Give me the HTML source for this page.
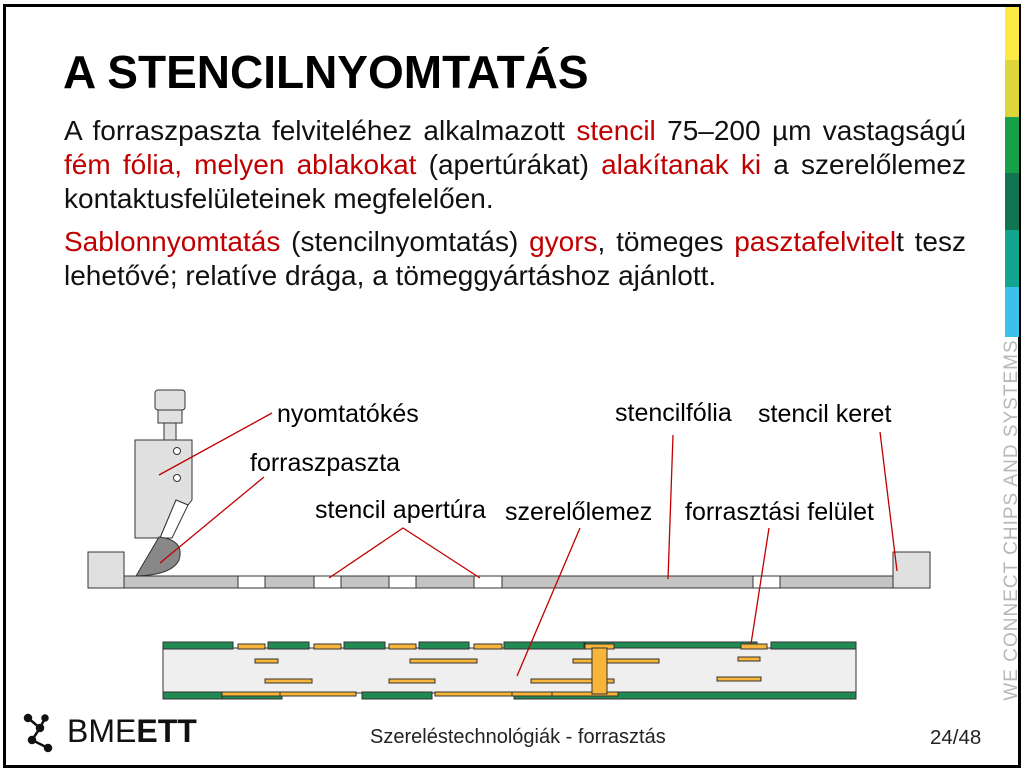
<!DOCTYPE html>
<html><head><meta charset="utf-8"><style>
body{margin:0;width:1028px;height:772px;overflow:hidden;background:#fff;font-family:"Liberation Sans",Arial,sans-serif;}
#frame{position:absolute;left:3px;top:4px;width:1012px;height:758px;border:3px solid #000;}
.t{position:absolute;white-space:nowrap;color:#111;}
.r{color:#c00000;}
.ln{position:absolute;left:64px;width:902px;font-size:28px;line-height:34px;text-align:justify;text-align-last:justify;white-space:nowrap;color:#111;}
.ln.l{text-align-last:left;}
</style></head><body>
<div id="frame"></div>
<div style="position:absolute;left:1005px;top:7px;width:14px;">
<div style="height:53px;background:#fde944"></div>
<div style="height:57px;background:#ddd63a"></div>
<div style="height:56px;background:#17a04a"></div>
<div style="height:57px;background:#117552"></div>
<div style="height:57px;background:#12a690"></div>
<div style="height:50px;background:#3bc1ee"></div>
</div>
<div class="t" style="left:1012px;top:520px;transform:translate(-50%,-50%) rotate(-90deg);font-size:19px;color:#b8b8b8;font-weight:300;letter-spacing:1px">WE CONNECT CHIPS AND SYSTEMS</div>

<div class="t" style="left:63px;top:45px;font-size:46px;font-weight:bold;color:#000">A STENCILNYOMTATÁS</div>
<div>
<div class="ln" style="top:114px">A forraszpaszta felviteléhez alkalmazott <span class="r">stencil</span> 75–200 µm vastagságú</div>
<div class="ln" style="top:148px"><span class="r">fém fólia, melyen ablakokat</span> (apertúrákat) <span class="r">alakítanak ki</span> a szerelőlemez</div>
<div class="ln l" style="top:182px">kontaktusfelületeinek megfelelően.</div>
</div>
<div>
<div class="ln" style="top:225px"><span class="r">Sablonnyomtatás</span> (stencilnyomtatás) <span class="r">gyors</span>, tömeges <span class="r">pasztafelvitel</span>t tesz</div>
<div class="ln l" style="top:259px">lehetővé; relatíve drága, a tömeggyártáshoz ajánlott.</div>
</div>

<svg width="1028" height="772" style="position:absolute;left:0;top:0" font-family="Liberation Sans, Arial, sans-serif" font-size="25" fill="#000">
<g stroke="#333" stroke-width="1">
<rect x="88" y="552" width="36" height="36" fill="#e0e0e0"/>
<rect x="893" y="552" width="37" height="36" fill="#e0e0e0"/>
<rect x="124" y="576" width="769" height="12" fill="#c4c4c4"/>
<g fill="#fff">
<rect x="238" y="576" width="27" height="12"/><rect x="314" y="576" width="27" height="12"/><rect x="389" y="576" width="27" height="12"/><rect x="474" y="576" width="28" height="12"/><rect x="753" y="576" width="27" height="12"/>
</g>
<g fill="#e0e0e0">
<rect x="155" y="390" width="30" height="20" rx="3"/>
<rect x="158" y="410" width="24" height="13"/>
<rect x="164" y="423" width="12" height="17"/>
<path d="M135 440 H192 V500 L188 505 L176 500 L160 538 H135 Z"/>
<path d="M176 500 L188 505 L172 538 H160 Z" fill="#fff"/>
<circle cx="177" cy="451" r="3.5" fill="#fff"/><circle cx="177" cy="478" r="3.5" fill="#fff"/>
</g>
<path d="M136 576 L159 537 Q185 540 179 560 Q172 575 136 576 Z" fill="#888"/>
<g>
<rect x="163" y="648" width="693" height="45" fill="#efefef"/>
<g fill="#218a52">
<rect x="163" y="642" width="70" height="7"/><rect x="268" y="642" width="41" height="7"/><rect x="344" y="642" width="41" height="7"/><rect x="419" y="642" width="50" height="7"/><rect x="504" y="642" width="80" height="7"/><rect x="585" y="642" width="172" height="6"/><rect x="771" y="642" width="85" height="7"/>
<rect x="163" y="692" width="60" height="7"/><rect x="222" y="692" width="60" height="7"/><rect x="362" y="692" width="70" height="7"/><rect x="514" y="692" width="342" height="7"/>
</g>
<g fill="#f7b53a">
<rect x="238" y="644" width="27" height="5"/><rect x="314" y="644" width="27" height="5"/><rect x="389" y="644" width="27" height="5"/><rect x="474" y="644" width="28" height="5"/><rect x="585" y="644" width="29" height="5"/><rect x="741" y="644" width="26" height="5"/>
<rect x="255" y="659" width="23" height="4"/><rect x="410" y="659" width="67" height="4"/><rect x="573" y="659" width="86" height="4"/><rect x="738" y="657" width="22" height="4"/>
<rect x="265" y="679" width="47" height="4"/><rect x="389" y="679" width="46" height="4"/><rect x="531" y="679" width="83" height="4"/><rect x="717" y="677" width="44" height="4"/>
<rect x="222" y="692" width="60" height="4"/><rect x="280" y="692" width="76" height="4"/><rect x="435" y="692" width="77" height="4"/><rect x="512" y="692" width="40" height="4"/><rect x="552" y="692" width="66" height="4"/>
<rect x="592" y="648" width="15" height="46"/>
</g>
</g>
</g>
<g stroke="#c00000" stroke-width="1.3" fill="none">
<path d="M159 475 L272 413"/><path d="M160 563 L264 477"/>
<path d="M329 578 L403 528 L480 578"/>
<path d="M517 676 L580 528"/>
<path d="M668 579 L673 435"/>
<path d="M751 644 L769 528"/>
<path d="M897 571 L880 432"/>
</g>
<text x="277" y="422">nyomtatókés</text>
<text x="250" y="471">forraszpaszta</text>
<text x="315" y="518">stencil apertúra</text>
<text x="505" y="520">szerelőlemez</text>
<text x="685" y="520">forrasztási felület</text>
<text x="615" y="421">stencilfólia</text>
<text x="758" y="422">stencil keret</text>
<g stroke="#111" stroke-width="2.5" fill="#111">
<path d="M28 718 L40 728 L32 740 L48 748" fill="none"/><circle cx="28" cy="718" r="3"/><circle cx="40" cy="728" r="3"/><circle cx="32" cy="740" r="3"/><circle cx="48" cy="748" r="3"/>
<path d="M45 718 L40 728" fill="none"/><circle cx="45" cy="718" r="2.5"/>
</g>
</svg>
<div class="t" style="left:67px;top:713px;font-size:32px;color:#111"><span style="font-weight:300">BME</span><b>ETT</b></div>
<div class="t" style="left:370px;top:726px;font-size:20px;color:#222">Szereléstechnológiák - forrasztás</div>
<div class="t" style="left:930px;top:726px;font-size:20.5px;color:#222">24/48</div>
</body></html>
